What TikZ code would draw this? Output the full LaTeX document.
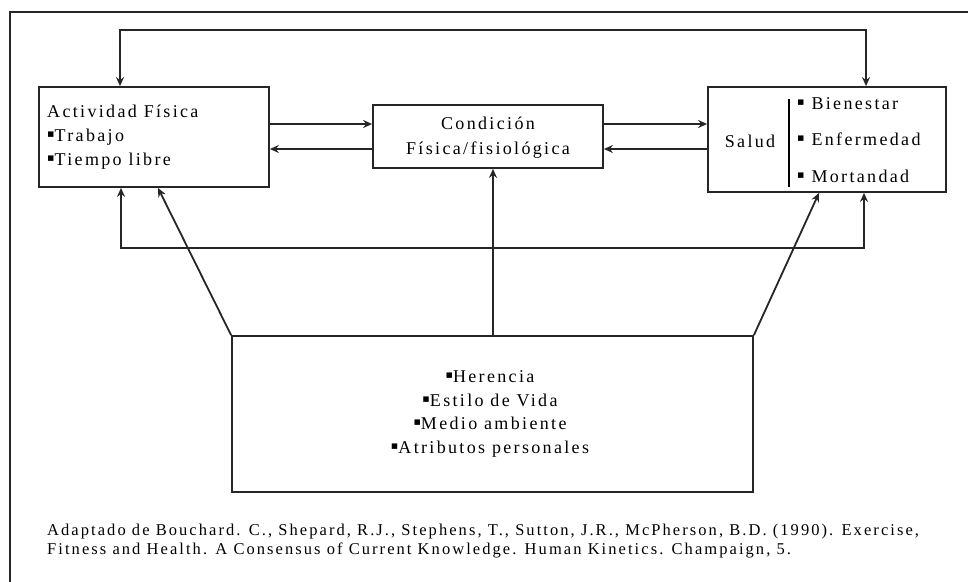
\documentclass[tikz,border=0pt]{standalone}
\usepackage{fontspec}
\setmainfont{Liberation Serif}
\newfontfamily\dfont{Liberation Serif}[LetterSpace=13]
\newfontfamily\ffont{Liberation Serif}[LetterSpace=12.5]
\newfontfamily\bulfont{DejaVu Sans}
\newcommand\bul{\raisebox{0.22em}{\bulfont\fontsize{11}{11}\selectfont\char"25AA}}
\usetikzlibrary{arrows.meta}
\begin{document}
\begin{tikzpicture}[x=1pt,y=-1pt,
  ln/.style={line width=1.8pt,draw=black!85},
  >={Stealth[length=9pt,width=8pt,inset=3pt]},
  boxn/.style={ln,rectangle,inner sep=0pt,fill=white},
  dtext/.style={font=\fontsize{18}{24}\dfont,inner sep=0pt},
  ftext/.style={font=\fontsize{16.5}{19}\ffont,inner sep=0pt,align=left}]
\useasboundingbox (0,0) rectangle (968,581);
% outer frame
\coordinate (fa) at (10,600);
\coordinate (fb) at (10,12);
\coordinate (fc) at (990,12);
\draw[ln,line width=1.8pt] (fa) -- (fb) -- (fc);
% boxes
\node[boxn,minimum width=230pt,minimum height=100pt] (act) at (154,137) {};
\node[boxn,minimum width=230pt,minimum height=63pt] (con) at (488,136.5) {};
\node[boxn,minimum width=238pt,minimum height=105pt] (sal) at (827,139.5) {};
\node[boxn,minimum width=521pt,minimum height=156pt] (bot) at (492.5,414) {};
% texts
\node[dtext,anchor=west,align=left] (actt) at (47,137) {Actividad Física\\\bul Trabajo\\\bul Tiempo libre};
\node[dtext,align=center,font=\fontsize{18}{25}\dfont] (cont) at (488,138) {Condición\\Física/fisiológica};
\node[dtext] (salt) at (750,141) {Salud};
\coordinate (vl1) at (789,99);
\coordinate (vl2) at (789,187);
\draw[line width=1.5pt] (vl1) -- (vl2);
\node[dtext,anchor=west,align=left,font=\fontsize{18}{36.5}\dfont] (sall) at (797,140) {\bul{} Bienestar\\\bul{} Enfermedad\\\bul{} Mortandad};
\node[dtext,align=center,font=\fontsize{18}{23.7}\dfont] (bott) at (490,414) {\bul Herencia\\\bul Estilo de Vida\\\bul Medio ambiente\\\bul Atributos personales};
\node[ftext,anchor=west] (foot) at (47,541.5) {Adaptado de Bouchard. C., Shepard, R.J., Stephens, T., Sutton, J.R., McPherson, B.D. (1990). Exercise,\\Fitness and Health. A Consensus of Current Knowledge. Human Kinetics. Champaign, 5.};
% helper coordinates
\coordinate (t1) at (120,30);
\coordinate (t2) at (866,30);
\coordinate (b1) at (121,248);
\coordinate (b2) at (864,248);
\coordinate (h1) at (0,124);
\coordinate (h2) at (0,149);
\coordinate (d1) at (158,0);
\coordinate (d2) at (819,0);
\coordinate (vx) at (493,0);
% top loop
\draw[ln,<->] (act.north -| t1) -- (t1) -- (t2) -- (sal.north -| t2);
% bottom loop
\draw[ln,<->] (act.south -| b1) -- (b1) -- (b2) -- (sal.south -| b2);
% horizontal arrows
\draw[ln,->] (act.east |- h1) -- (con.west |- h1);
\draw[ln,->] (con.west |- h2) -- (act.east |- h2);
\draw[ln,->] (con.east |- h1) -- (sal.west |- h1);
\draw[ln,->] (sal.west |- h2) -- (con.east |- h2);
% from bottom box
\draw[ln,->] (bot.north west) -- (act.south -| d1);
\draw[ln,->] (bot.north east) -- (sal.south -| d2);
\draw[ln,->] (bot.north -| vx) -- (con.south -| vx);
\end{tikzpicture}
\end{document}
